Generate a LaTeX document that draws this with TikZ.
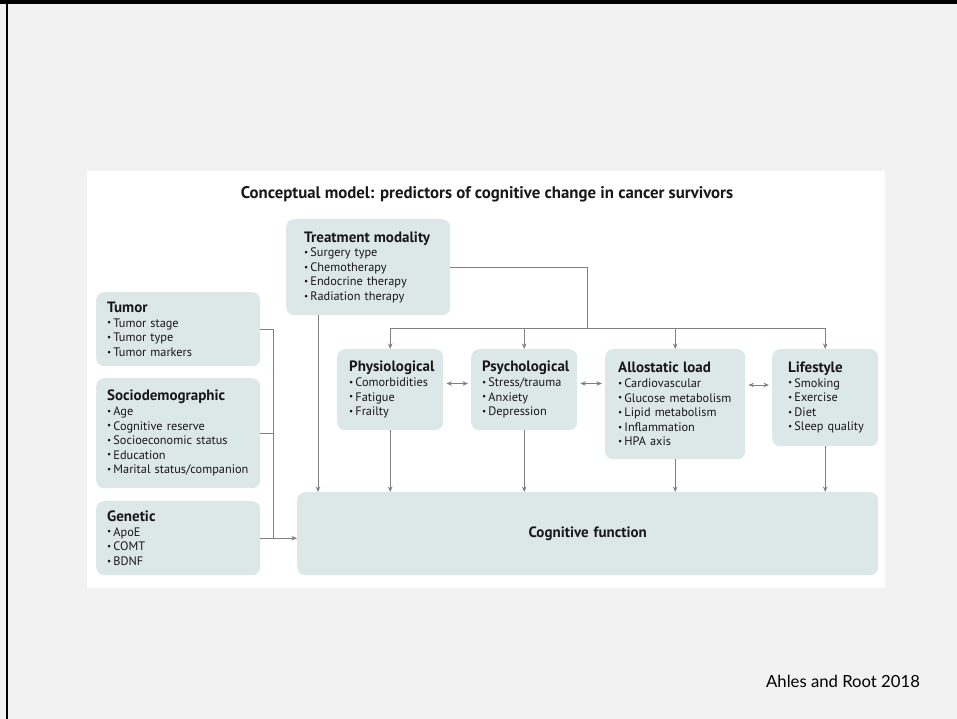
\documentclass[tikz,border=0pt]{standalone}
\usepackage{fontspec}
\setmainfont{PT Sans}
\newfontfamily\footfont{Lato}
\usetikzlibrary{arrows.meta}
\definecolor{boxfill}{HTML}{DCE7E7}
\definecolor{slidegray}{HTML}{F2F2F2}
\definecolor{linegray}{HTML}{808080}
\definecolor{inkdark}{HTML}{1A1718}
\newcommand{\itm}[1]{\mbox{\raisebox{.2ex}{\scalebox{.75}{\textbullet}}\,#1}}
\newcommand{\hd}[1]{{\fontsize{15}{16}\selectfont\bfseries #1}}
\begin{document}
\begin{tikzpicture}[x=1pt,y=-1pt,
    pbox/.style={fill=boxfill, rounded corners=8pt, anchor=north west, align=left,
      inner ysep=0pt, text=inkdark, font=\fontsize{12.3}{14.6}\selectfont},
    link/.style={draw=linegray, line width=0.9pt},
    arr/.style={link, -{Stealth[length=5.5pt,width=4.5pt]}},
    dbl/.style={link, {Stealth[length=5.5pt,width=4.5pt]}-{Stealth[length=5.5pt,width=4.5pt]},
      shorten <=3pt, shorten >=3pt}]
    \useasboundingbox (0,0) rectangle (957,719);
    % slide
    \fill[slidegray] (0,0) rectangle (957,719);
    \fill[black] (0,0) rectangle (957,4.5);
    \fill[black] (5.5,0) rectangle (8,719);
    \fill[white] (87,171) rectangle (885,588);
    \node[font=\bfseries\fontsize{16.8}{18}\selectfont, text=inkdark] (ttl) at (487,194)
        {Conceptual model: predictors of cognitive change in cancer survivors};
    % boxes
    \node[pbox, minimum height=96pt, inner xsep=18pt, text width=128pt] (tm) at (286,219)
        {\hd{Treatment modality}\\ \itm{Surgery type}\\ \itm{Chemotherapy}\\ \itm{Endocrine therapy}\\ \itm{Radiation therapy}};
    \node[pbox, minimum height=74pt, inner xsep=11pt, text width=142pt] (tu) at (96,292)
        {\hd{Tumor}\\ \itm{Tumor stage}\\ \itm{Tumor type}\\ \itm{Tumor markers}};
    \node[pbox, minimum height=110pt, inner xsep=11pt, text width=142pt] (so) at (96,378)
        {\hd{Sociodemographic}\\ \itm{Age}\\ \itm{Cognitive reserve}\\ \itm{Socioeconomic status}\\ \itm{Education}\\ \itm{Marital status/companion}};
    \node[pbox, minimum height=74pt, inner xsep=11pt, text width=142pt] (ge) at (96,501)
        {\hd{Genetic}\\ \itm{ApoE}\\ \itm{COMT}\\ \itm{BDNF}};
    \node[pbox, minimum height=81pt, inner xsep=12pt, text width=82pt] (ph) at (337,349)
        {\hd{Physiological}\\ \itm{Comorbidities}\\ \itm{Fatigue}\\ \itm{Frailty}};
    \node[pbox, minimum height=81pt, inner xsep=11pt, text width=84pt] (ps) at (471,349)
        {\hd{Psychological}\\ \itm{Stress/trauma}\\ \itm{Anxiety}\\ \itm{Depression}};
    \node[pbox, minimum height=110pt, inner xsep=13pt, text width=114pt] (al) at (605,349)
        {\hd{Allostatic load}\\ \itm{Cardiovascular}\\ \itm{Glucose metabolism}\\ \itm{Lipid metabolism}\\ \itm{Inflammation}\\ \itm{HPA axis}};
    \node[pbox, minimum height=97pt, inner xsep=16pt, text width=74pt] (li) at (772,349)
        {\hd{Lifestyle}\\ \itm{Smoking}\\ \itm{Exercise}\\ \itm{Diet}\\ \itm{Sleep quality}};
    \node[pbox, align=center, minimum height=83pt, inner xsep=0pt, text width=581pt,
        font=\bfseries\fontsize{15}{16}\selectfont] (cog) at (297,492) {Cognitive function};
    % connectors
    \coordinate (br) at (587,328);
    \coordinate (trunk) at (273,330);
    \coordinate (tmdown) at ([xshift=32pt]tm.south west);
    \coordinate (dy) at (0,383.5);
    \draw[link] (tm.east) -| (br);
    \draw[link] (ph.north |- br) -- (li.north |- br);
    \foreach \b in {ph,ps,al,li}{
        \draw[arr] (\b.north |- br) -- (\b.north);
        \draw[arr] (\b.south) -- (\b.south |- cog.north);
    }
    \draw[arr] (tmdown) -- (tmdown |- cog.north);
    \draw[link] (tu.east) -- (tu.east -| trunk) -- (ge.east -| trunk);
    \draw[link] (so.east) -- (so.east -| trunk);
    \draw[arr] (ge.east) -- (ge.east -| cog.west);
    \draw[dbl] (ph.east |- dy) -- (ps.west |- dy);
    \draw[dbl] (ps.east |- dy) -- (al.west |- dy);
    \draw[dbl] ([yshift=-1.5pt]al.east |- dy) -- ([yshift=-1.5pt]li.west |- dy);
    % source
    \node[anchor=base east, font=\footfont\fontsize{16.7}{17}\selectfont] (src) at (923.5,687)
        {Ahles and Root 2018};
\end{tikzpicture}
\end{document}
